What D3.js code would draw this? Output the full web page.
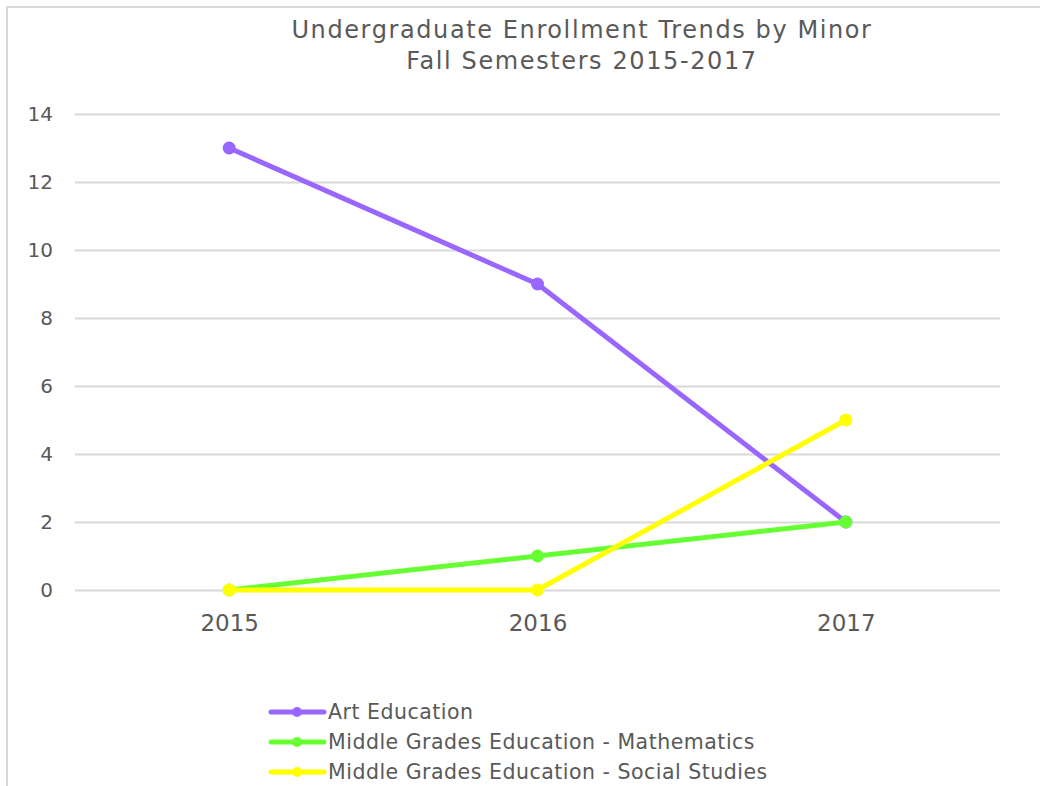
<!DOCTYPE html>
<html>
<head>
<meta charset="utf-8">
<script src="https://cdn.jsdelivr.net/npm/d3@7"></script>
<style>
  body { margin: 0; background: #fff; }
  svg text { font-family: "DejaVu Sans", Verdana, sans-serif; fill: #595959; }
</style>
</head>
<body>
<div id="plot"></div>
<script>
const years = ['2015', '2016', '2017']
const seriesNames = ['Art Education', 'Middle Grades Education - Mathematics', 'Middle Grades Education - Social Studies']
const artEd = [13, 9, 2]
const mathEd = [0, 1, 2]
const socialEd = [0, 0, 5]
const yTicks = [0, 2, 4, 6, 8, 10, 12, 14]
const colors = ['#9966ff', '#66ff33', '#ffff00']

const width = 1040, height = 786
const margin = ({top: 114, right: 40, bottom: 196, left: 75})

const svg = d3.select('#plot').append('svg')
  .attr('width', width)
  .attr('height', height)

// outer frame
svg.append('rect')
  .attr('x', 7).attr('y', 7)
  .attr('width', width + 20).attr('height', height + 20)
  .attr('fill', 'none')
  .attr('stroke', '#d9d9d9')
  .attr('stroke-width', 2)

// title
const titleLines = ['Undergraduate Enrollment Trends by Minor', 'Fall Semesters 2015-2017']
svg.selectAll('.title')
  .data(titleLines)
  .enter()
  .append('text')
  .attr('class', 'title')
  .attr('x', 582)
  .attr('y', (d, i) => 38 + i * 31)
  .attr('text-anchor', 'middle')
  .style('font-size', '24px')
  .style('letter-spacing', '1.6px')
  .text(d => d)

const xScale = d3.scalePoint()
  .domain(years)
  .range([margin.left, width - margin.right])
  .padding(0.5)

const yScale = d3.scaleLinear()
  .domain([0, 14])
  .range([height - margin.bottom, margin.top])

//yaxis + gridlines
svg.append('g')
  .attr('transform', `translate(${margin.left},0)`)
  .call(d3.axisLeft(yScale).tickValues(yTicks).tickSize(-(width - margin.left - margin.right)).tickPadding(22))
  .call(g => g.select('.domain').remove())
  .call(g => g.selectAll('.tick line').attr('stroke', '#d9d9d9').attr('stroke-width', 2))
  .call(g => g.selectAll('.tick text').style('font-size', '20px').attr('dy', '0.34em'))

//xaxis
svg.append('g')
  .attr('transform', `translate(0,${height - margin.bottom})`)
  .call(d3.axisBottom(xScale).tickSize(0))
  .call(g => g.select('.domain').remove())
  .call(g => g.selectAll('.tick text').style('font-size', '23px').attr('y', 41).attr('dy', 0))

const series = [artEd, mathEd, socialEd].map((vals, i) => ({
  name: seriesNames[i],
  color: colors[i],
  values: vals.map((v, j) => [years[j], v])
}))

const line = d3.line()
  .x(d => xScale(d[0]))
  .y(d => yScale(d[1]))

const g = svg.append('g')
series.forEach(s => {
  g.append('path')
    .datum(s.values)
    .attr('d', line)
    .attr('fill', 'none')
    .attr('stroke', s.color)
    .attr('stroke-width', 5)
    .attr('stroke-linejoin', 'round')
  g.selectAll(null)
    .data(s.values)
    .enter()
    .append('circle')
    .attr('cx', d => xScale(d[0]))
    .attr('cy', d => yScale(d[1]))
    .attr('r', 6.5)
    .attr('fill', s.color)
})

//legend
const legend = svg.append('g')
  .attr('transform', 'translate(270,712)')
series.forEach((s, i) => {
  const row = legend.append('g').attr('transform', `translate(0,${i * 30})`)
  row.append('line')
    .attr('x1', 1).attr('x2', 54)
    .attr('stroke', s.color)
    .attr('stroke-width', 5)
    .attr('stroke-linecap', 'round')
  row.append('circle').attr('cx', 27).attr('r', 5).attr('fill', s.color)
  row.append('text')
    .attr('x', 58).attr('dy', '0.36em')
    .style('font-size', '20.5px')
    .style('letter-spacing', '0.5px')
    .text(s.name)
})
</script>
</body>
</html>
